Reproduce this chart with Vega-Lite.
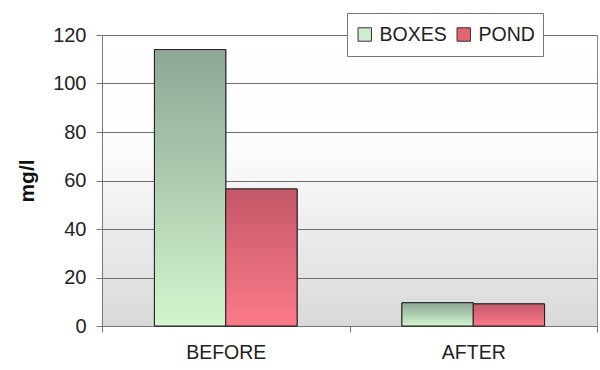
{
  "$schema": "https://vega.github.io/schema/vega-lite/v6.json",
  "width": 495,
  "height": 291,
  "autosize": {"type": "none"},
  "padding": {"left": 102, "top": 35, "right": 3, "bottom": 44},
  "background": "white",
  "data": {
    "values": [
      {"phase": "BEFORE", "series": "BOXES", "value": 114},
      {"phase": "BEFORE", "series": "POND", "value": 56.5},
      {"phase": "AFTER", "series": "BOXES", "value": 9.6},
      {"phase": "AFTER", "series": "POND", "value": 9.1}
    ]
  },
  "encoding": {
    "x": {
      "field": "phase",
      "type": "nominal",
      "sort": ["BEFORE", "AFTER"],
      "scale": {"paddingInner": 0, "paddingOuter": 0},
      "axis": {
        "title": null,
        "labelAngle": 0,
        "labelFont": "Liberation Sans",
        "labelFontSize": 19.5,
        "labelColor": "#222",
        "labelPadding": 11,
        "tickBand": "extent",
        "ticks": true,
        "tickSize": 6,
        "tickColor": "#777",
        "domainColor": "#777",
        "grid": false
      }
    },
    "xOffset": {
      "field": "series",
      "type": "nominal",
      "scale": {"paddingInner": 0, "paddingOuter": 0.735}
    },
    "y": {
      "field": "value",
      "type": "quantitative",
      "scale": {"domain": [0, 120], "nice": false},
      "axis": {
        "title": "mg/l",
        "titleFont": "Liberation Sans",
        "titleFontSize": 21,
        "titleFontWeight": "bold",
        "titleColor": "#111",
        "titlePadding": 15,
        "values": [0, 20, 40, 60, 80, 100, 120],
        "labelFont": "Liberation Sans",
        "labelFontSize": 20,
        "labelColor": "#222",
        "labelPadding": 10,
        "tickSize": 6,
        "tickColor": "#777",
        "domainColor": "#777",
        "grid": true,
        "gridColor": "#707070",
        "gridWidth": 1
      }
    }
  },
  "layer": [
    {
      "mark": {"type": "bar", "stroke": "#222", "strokeWidth": 1},
      "encoding": {
        "color": {
          "field": "series",
          "type": "nominal",
          "scale": {"domain": ["BOXES", "POND"], "range": ["#cfeccc", "#e4646f"]},
          "legend": {
            "title": null,
            "orient": "none",
            "legendX": 245,
            "legendY": -22,
            "direction": "horizontal",
            "gridAlign": "none",
            "symbolType": "square",
            "symbolSize": 180,
            "symbolStrokeColor": "#333",
            "symbolStrokeWidth": 1,
            "symbolOpacity": 1,
            "labelFont": "Liberation Sans",
            "labelFontSize": 19.5,
            "labelColor": "#222",
            "labelOffset": 5,
            "columnPadding": 7,
            "clipHeight": 27,
            "padding": 8,
            "fillColor": "white",
            "strokeColor": "#777"
          }
        }
      }
    },
    {
      "transform": [{"filter": "datum.series === 'BOXES'"}],
      "mark": {
        "type": "bar",
        "stroke": "#222",
        "strokeWidth": 1,
        "fill": {
          "gradient": "linear",
          "x1": 0, "y1": 0, "x2": 0, "y2": 1,
          "stops": [
            {"offset": 0, "color": "#8ea797"},
            {"offset": 0.35, "color": "#a4c2a8"},
            {"offset": 1, "color": "#d3f6cd"}
          ]
        }
      }
    },
    {
      "transform": [{"filter": "datum.series === 'POND'"}],
      "mark": {
        "type": "bar",
        "stroke": "#222",
        "strokeWidth": 1,
        "fill": {
          "gradient": "linear",
          "x1": 0, "y1": 0, "x2": 0, "y2": 1,
          "stops": [
            {"offset": 0, "color": "#c45868"},
            {"offset": 1, "color": "#fb7a88"}
          ]
        }
      }
    }
  ],
  "config": {
    "view": {
      "stroke": "#888",
      "fill": {
        "gradient": "linear",
        "x1": 0, "y1": 0, "x2": 0, "y2": 1,
        "stops": [
          {"offset": 0, "color": "#ffffff"},
          {"offset": 0.4, "color": "#fcfcfc"},
          {"offset": 1, "color": "#d9d9d9"}
        ]
      }
    }
  }
}
